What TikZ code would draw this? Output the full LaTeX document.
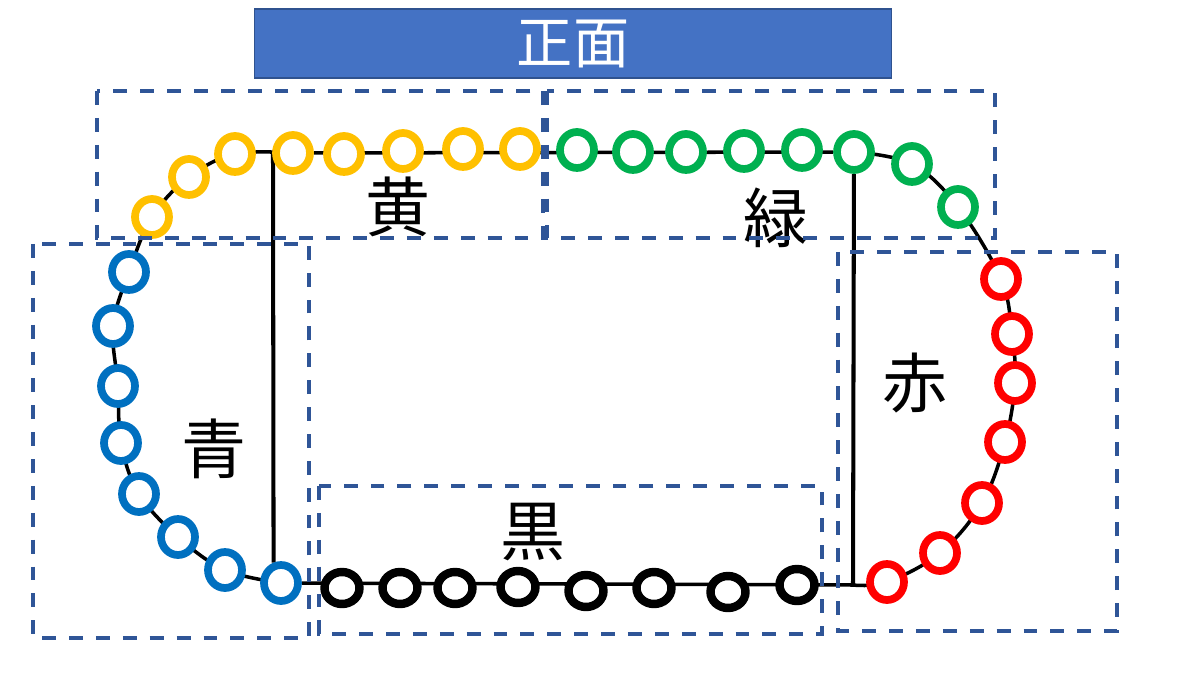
\documentclass[tikz,border=0pt]{standalone}
\usepackage{fontspec}
\newfontfamily\jpfont{Noto Sans CJK JP}
\usepackage{tikz}
\usetikzlibrary{shapes.geometric,backgrounds}
\usepackage{xcolor}
\definecolor{ringyellow}{RGB}{255,192,0}
\definecolor{ringgreen}{RGB}{0,176,80}
\definecolor{ringblue}{RGB}{0,112,192}
\definecolor{ringred}{RGB}{255,0,0}
\definecolor{zoneblue}{RGB}{47,85,151}
\definecolor{titlefill}{RGB}{68,114,196}
\definecolor{titledraw}{RGB}{47,82,143}
\tikzset{
    ring/.style={ellipse, draw, fill=white, line width=4.4pt, minimum width=0.68cm, minimum height=0.72cm, inner sep=0pt},
    ringY/.style={ring, draw=ringyellow},
    ringG/.style={ring, draw=ringgreen},
    ringB/.style={ring, draw=ringblue},
    ringR/.style={ring, draw=ringred},
    ringK/.style={ring, draw=black, line width=4.8pt, minimum width=0.70cm, minimum height=0.64cm},
    track/.style={line width=2pt, black},
    post/.style={line width=2.3pt, black},
    zone/.style={draw=zoneblue, line width=2pt, dash pattern=on 7.9pt off 7.4pt},
    zonelabel/.style={font=\jpfont\fontsize{37}{40}\selectfont, inner sep=0pt},
}
\begin{document}
\begin{tikzpicture}[x=0.02cm, y=-0.02cm]
    \useasboundingbox (0,0) rectangle (1200,675);
    % Title
    \node[draw=titledraw, fill=titlefill, line width=0.6pt, minimum width=12.76cm, minimum height=1.38cm,
          text=white, font=\jpfont\fontsize{32}{34}\selectfont] (title) at (573,43.5) {正面};
    % Yellow
    \foreach \n/\x/\y in {1/152/217, 2/189/177, 3/235/154, 4/293/153, 5/344/154, 6/403/151, 7/463/149, 8/520/149} {
        \node[ringY] (y\n) at (\x,\y) {};
    }
    % Green
    \foreach \n/\x/\y in {1/577/150, 2/633/152, 3/686/152, 4/744/151, 5/802/150, 6/854/152, 7/912/164, 8/958/207} {
        \node[ringG] (g\n) at (\x,\y) {};
    }
    % Red
    \foreach \n/\x/\y in {1/1001/279, 2/1012/334, 3/1015/383, 4/1005/442, 5/982/503, 6/940/553, 7/887/582} {
        \node[ringR] (r\n) at (\x,\y) {};
    }
    % Black
    \foreach \n/\x/\y in {1/342/588, 2/400/588, 3/455/588, 4/518/587, 5/586/591, 6/654/588, 7/728/592, 8/797/585} {
        \node[ringK] (k\n) at (\x,\y) {};
    }
    % Blue
    \foreach \n/\x/\y in {1/129/272, 2/113/326, 3/118/386, 4/121/443, 5/139/494, 6/178/537, 7/225/570, 8/281/583} {
        \node[ringB] (b\n) at (\x,\y) {};
    }
    % Track ends of the posts
    \coordinate (lt) at (273,151);
    \coordinate (rb) at (853,585);
    % Track
    \begin{scope}[on background layer]
        \draw[track] (y4) -- (g6);
        \draw[track] plot[smooth, tension=0.6] coordinates {(g6) (g7) (g8) (r1) (r2) (r3) (r4) (r5) (r6) (r7) (rb)};
        \draw[track] (rb) -- (b8);
        \draw[track] plot[smooth, tension=0.6] coordinates {(b8) (b7) (b6) (b5) (b4) (b3) (b2) (b1) (y1) (y2) (y3) (y4)};
        \draw[post] (lt) -- (b8.110);
        \draw[post] (g6) -- (rb);
    \end{scope}
    % Labels
    \node[zonelabel] (lblY) at (398,207) {黄};
    \node[zonelabel] (lblG) at (776,218) {緑};
    \node[zonelabel] (lblB) at (214,449) {青};
    \node[zonelabel] (lblK) at (533,532) {黒};
    \node[zonelabel] (lblR) at (915,383) {赤};
    % Zones
    \draw[zone] (97,91) rectangle (543,238);
    \draw[zone] (547,91) rectangle (995,238);
    \draw[zone] (33,244) rectangle (309,638);
    \draw[zone] (319,486) rectangle (822,634);
    \draw[zone] (838,252) rectangle (1117,631);
\end{tikzpicture}
\end{document}
